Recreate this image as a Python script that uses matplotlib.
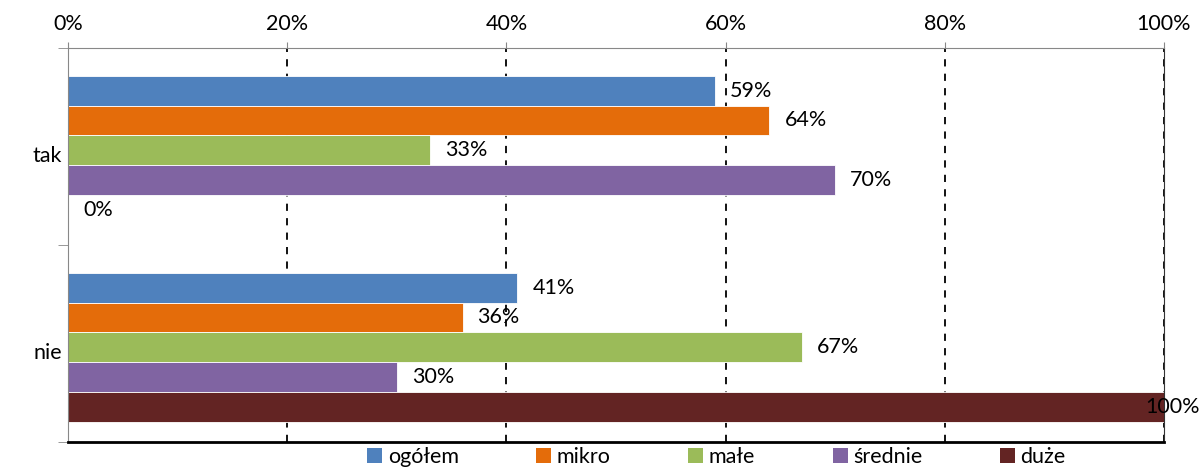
import matplotlib.pyplot as plt
from matplotlib.patches import Patch
import numpy as np

plt.rcParams['font.family'] = ['Lato', 'DejaVu Sans']

# answers and company size groups
categories = ['tak', 'nie']
series = ['ogółem', 'mikro', 'małe', 'średnie', 'duże']
values = {
    'ogółem': [59, 41],
    'mikro': [64, 36],
    'małe': [33, 67],
    'średnie': [70, 30],
    'duże': [0, 100],
}
colors = ['#4F81BD', '#E46C0A', '#9BBB59', '#8064A2', '#632423']
xticks = [0, 20, 40, 60, 80, 100]

fs = 15.5

fig = plt.figure(figsize=(12, 4.7), dpi=100)
ax = fig.add_axes([0.0567, 0.0596, 0.9133, 0.8383])

y = np.arange(len(categories))
h = 0.152
for i, (name, col) in enumerate(zip(series, colors)):
    pos = y + (i - 2) * h + 0.02
    vals = values[name]
    ax.barh(pos, vals, height=h, color=col, edgecolor='white', linewidth=0.6)
    for p, v in zip(pos, vals):
        if v > 95:
            ax.annotate(f'{v}%', (v, p), xytext=(36, 0), textcoords='offset pixels',
                        ha='right', va='center', fontsize=fs, annotation_clip=False)
        else:
            ax.annotate(f'{v}%', (v, p), xytext=(15, 0), textcoords='offset pixels',
                        ha='left', va='center', fontsize=fs, annotation_clip=False)

ax.set_xlim(0, 100)
ax.set_ylim(1.5, -0.5)
ax.set_xticks(xticks)
ax.set_xticklabels([f'{t}%' for t in xticks], fontsize=fs)
ax.xaxis.tick_top()
ax.tick_params(axis='x', length=4, color='#888888', pad=6)

ax.set_yticks(y + 0.04)
ax.set_yticklabels(categories, fontsize=fs)
ax.set_yticks([-0.5, 0.5, 1.5], minor=True)
ax.tick_params(axis='y', which='major', length=0, pad=4)
ax.tick_params(axis='y', which='minor', length=7, color='#888888')

ax.grid(axis='x', color='black', linestyle=(0, (4, 4)), linewidth=1.3)
ax.set_axisbelow(True)

ax.spines['left'].set_color('#888888')
ax.spines['top'].set_color('#888888')
ax.spines['right'].set_color('#333333')
ax.spines['bottom'].set_color('black')
ax.spines['bottom'].set_linewidth(2)

handles = [Patch(facecolor=c) for c in colors]
fig.legend(handles, series, loc='center', bbox_to_anchor=(0.597, 0.027), ncol=5,
           frameon=False, fontsize=fs, handlelength=0.7, handleheight=0.7,
           handletextpad=0.25, columnspacing=3.6, borderpad=0.1)

fig.savefig('out.png', dpi=100)
